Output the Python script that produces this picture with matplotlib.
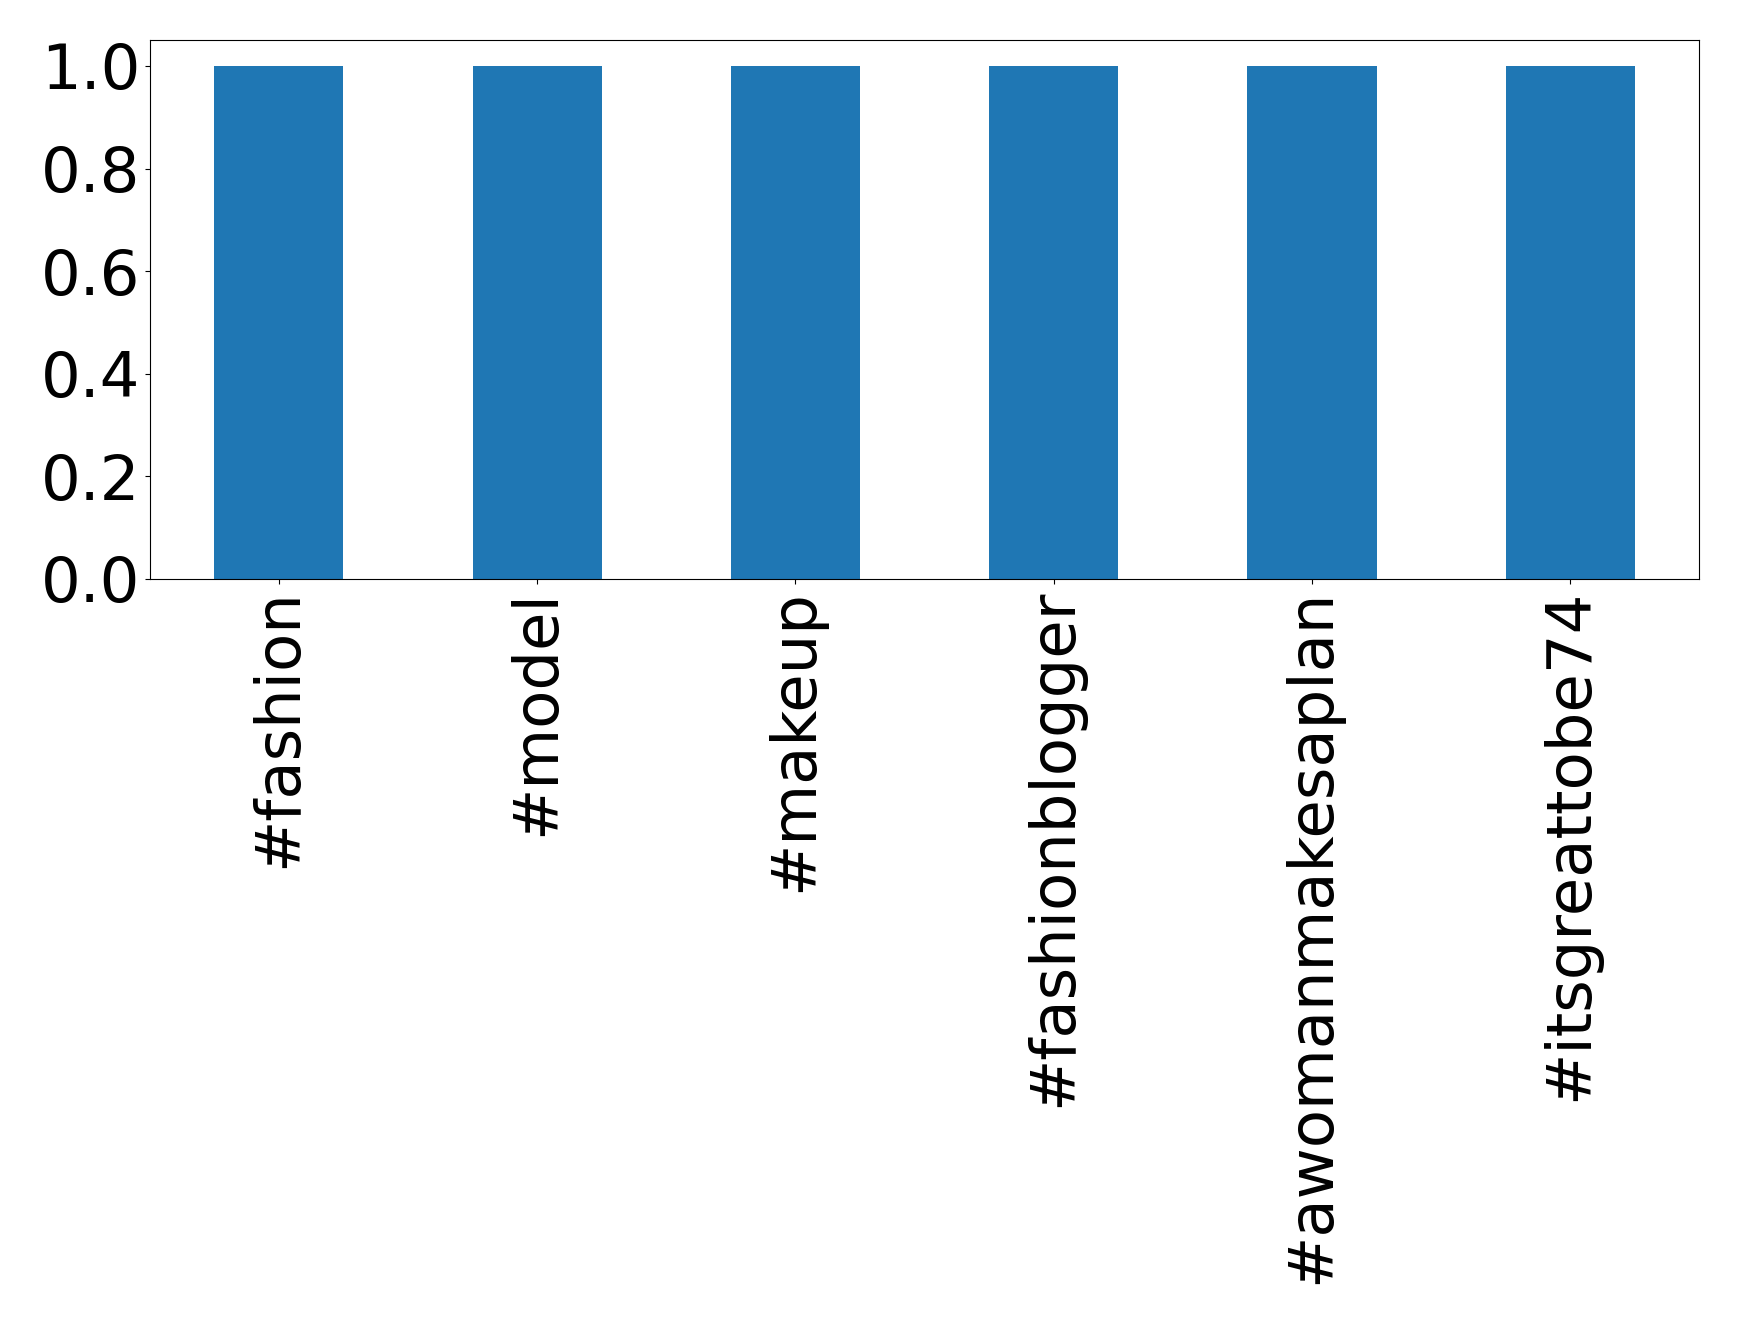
import matplotlib
matplotlib.use("Agg")
from matplotlib import pyplot as plt

tags = ['#fashion', '#model', '#makeup', '#fashionblogger', '#awomanmakesaplan', '#itsgreattobe74']
counts = [1, 1, 1, 1, 1, 1]
yticks = [0.0, 0.2, 0.4, 0.6, 0.8, 1.0]

fig = plt.figure(figsize=(17.39, 13.24), dpi=100)
ax = fig.add_axes([0.0861, 0.5627, 0.8911, 0.4069])

x = range(len(tags))
ax.bar(x, counts, width=0.5, color='tab:blue')
ax.set_xlim(-0.5, len(tags) - 0.5)
ax.set_ylim(0, 1.05)
ax.set_yticks(yticks)
ax.set_xticks(list(x))
ax.set_xticklabels(tags, rotation=90, fontsize=45)
ax.tick_params(axis='y', labelsize=45)

fig.savefig('out.png', dpi=100)
